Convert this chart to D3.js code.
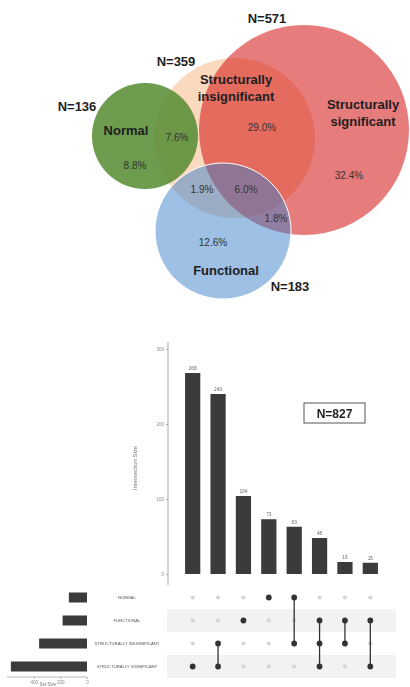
<!DOCTYPE html>
<html>
<head>
<meta charset="utf-8">
<script src="https://cdn.jsdelivr.net/npm/d3@7"></script>
<style>
  html, body { margin: 0; padding: 0; background: #fff; }
  svg { display: block; font-family: "Liberation Sans", Arial, sans-serif; }
</style>
</head>
<body>
<svg id="chart" width="410" height="687"></svg>
<script>
// ---- Venn: set names, totals, region shares ----
const vennSets = ["Structurally insignificant", "Normal", "Structurally significant", "Functional"];
const vennTotals = [359, 136, 571, 183];
const vennRegionLabels = ["29.0%", "7.6%", "8.8%", "32.4%", "1.9%", "6.0%", "1.8%", "12.6%"];

// ---- UpSet: sets, set sizes, intersections ----
const setNames = ["NORMAL", "FUNCTIONAL", "STRUCTURALLY INSIGNIFICANT", "STRUCTURALLY SIGNIFICANT"];
const setSizes = [136, 183, 359, 571];
const intersectionSizes = [268, 240, 104, 73, 63, 48, 16, 15];
// member set indices (into setNames) for each intersection column
const intersectionMembers = [[3], [2, 3], [1], [0], [0, 2], [1, 2, 3], [1, 2], [1, 3]];
const intersectionTicks = [0, 100, 200, 300];
const setSizeTicks = [0, 200, 400];
const totalLabel = "N=827";

const svg = d3.select("#chart");
const FONT = "'Liberation Sans', Arial, sans-serif";

const defs = svg.append("defs");
defs.append("filter").attr("id", "soft")
  .attr("x", "-5%").attr("y", "-5%").attr("width", "110%").attr("height", "110%")
  .append("feGaussianBlur").attr("stdDeviation", 0.35);

// ================= Venn diagram =================
const vennLayout = [
  { cx: 235, cy: 138, r: 80, fill: "rgb(245,170,110)", op: 0.45,
    title: ["Structurally", "insignificant"], tx: 236, ty: 84, nx: 176, ny: 66 },
  { cx: 145, cy: 136, r: 53, fill: "rgb(85,140,50)", op: 0.86,
    title: ["Normal"], tx: 126, ty: 135, nx: 77, ny: 111 },
  { cx: 304, cy: 130, r: 105, fill: "rgb(212,22,22)", op: 0.56,
    title: ["Structurally", "significant"], tx: 363, ty: 109, nx: 267, ny: 23 },
  { cx: 223, cy: 231, r: 68, fill: "rgb(60,130,202)", op: 0.5,
    title: ["Functional"], tx: 226, ty: 275, nx: 290, ny: 291 }
];
const venn = vennSets.map((name, i) => Object.assign({ name, total: vennTotals[i] }, vennLayout[i]));

const vg = svg.append("g");
vg.selectAll("circle").data(venn).join("circle")
  .attr("cx", d => d.cx).attr("cy", d => d.cy).attr("r", d => d.r)
  .attr("fill", d => d.fill).attr("fill-opacity", d => d.op)
  .attr("stroke", (d, i) => i === 3 ? "#fff" : "none")
  .attr("stroke-width", 1);

// set titles
venn.forEach(d => {
  const t = vg.append("text")
    .attr("x", d.tx).attr("y", d.ty)
    .attr("text-anchor", "middle")
    .attr("font-size", 13).attr("font-weight", "bold").attr("fill", "#1e1e1e");
  d.title.forEach((line, k) => {
    t.append("tspan").attr("x", d.tx).attr("dy", k === 0 ? 0 : 17).text(line);
  });
  vg.append("text")
    .attr("x", d.nx).attr("y", d.ny)
    .attr("text-anchor", "middle")
    .attr("font-size", 13).attr("font-weight", "bold").attr("fill", "#1e1e1e")
    .text("N=" + d.total);
});

// region shares
const regionPos = [[262, 131], [177, 141], [135, 169], [349, 179], [202, 193], [246, 193], [276, 222], [213, 246]];
vg.selectAll("text.pct").data(vennRegionLabels).join("text")
  .attr("class", "pct")
  .attr("x", (d, i) => regionPos[i][0]).attr("y", (d, i) => regionPos[i][1])
  .attr("text-anchor", "middle")
  .attr("font-size", 10).attr("fill", "#333")
  .text(d => d);

// ================= UpSet plot =================
const ug = svg.append("g").attr("filter", "url(#soft)");
const cols = d3.range(intersectionSizes.length);

const x = d3.scaleBand().domain(cols).range([180, 383]).paddingInner(0.4).paddingOuter(0.2);
const y = d3.scaleLinear().domain([0, 300]).range([574, 349]);
const row = d3.scaleBand().domain(setNames).range([586, 678]);
const sx = d3.scaleLinear().domain([0, 600]).range([87, 7]);

// intersection-size axis
const yAxis = ug.append("g").attr("transform", "translate(168,0)")
  .call(d3.axisLeft(y).tickValues(intersectionTicks).tickSize(2).tickPadding(2));
yAxis.select(".domain").remove();
yAxis.selectAll("line").attr("stroke", "#888").attr("stroke-width", 0.6);
yAxis.selectAll("text").attr("font-size", 4.5).attr("fill", "#888").attr("font-family", FONT);
ug.append("line").attr("x1", 168).attr("x2", 168).attr("y1", 342).attr("y2", 585)
  .attr("stroke", "#888").attr("stroke-width", 0.7);

ug.append("text")
  .attr("transform", "translate(137,468) rotate(-90)")
  .attr("text-anchor", "middle")
  .attr("font-size", 6).attr("fill", "#777")
  .text("Intersection Size");

// intersection bars
ug.selectAll("rect.bar").data(intersectionSizes).join("rect")
  .attr("class", "bar")
  .attr("x", (d, i) => x(i)).attr("width", x.bandwidth())
  .attr("y", d => y(d)).attr("height", d => y(0) - y(d))
  .attr("fill", "#3a3a3a");

ug.selectAll("text.val").data(intersectionSizes).join("text")
  .attr("class", "val")
  .attr("x", (d, i) => x(i) + x.bandwidth() / 2)
  .attr("y", d => y(d) - 3)
  .attr("text-anchor", "middle")
  .attr("font-size", 4.8).attr("fill", "#666")
  .text(d => d);

// total box
const box = ug.append("g").attr("transform", "translate(304,403)");
box.append("rect").attr("width", 61).attr("height", 20)
  .attr("fill", "#fff").attr("stroke", "#555").attr("stroke-width", 1);
box.append("text").attr("x", 30.5).attr("y", 14.5)
  .attr("text-anchor", "middle")
  .attr("font-size", 12).attr("font-weight", "bold").attr("fill", "#222")
  .text(totalLabel);

// matrix stripes
ug.selectAll("rect.stripe").data(setNames.filter((d, i) => i % 2 === 1)).join("rect")
  .attr("class", "stripe")
  .attr("x", 167).attr("width", 229)
  .attr("y", d => row(d)).attr("height", row.bandwidth())
  .attr("fill", "#f2f2f2");

// matrix dots and connectors
const cx = i => x(i) + x.bandwidth() / 2;
const cy = s => row(s) + row.bandwidth() / 2;
cols.forEach(i => {
  const members = intersectionMembers[i];
  setNames.forEach((s, k) => {
    const on = members.includes(k);
    ug.append("circle")
      .attr("cx", cx(i)).attr("cy", cy(s))
      .attr("r", on ? 2.9 : 2.1)
      .attr("fill", on ? "#333" : "#d6d6d6");
  });
  if (members.length > 1) {
    const ys = members.map(k => cy(setNames[k]));
    ug.append("line")
      .attr("x1", cx(i)).attr("x2", cx(i))
      .attr("y1", d3.min(ys)).attr("y2", d3.max(ys))
      .attr("stroke", "#333").attr("stroke-width", 1.3);
  }
});

// set labels
ug.selectAll("text.set").data(setNames).join("text")
  .attr("class", "set")
  .attr("x", 127).attr("y", d => cy(d) + 1.5)
  .attr("text-anchor", "middle")
  .attr("font-size", 4.2).attr("fill", "#555")
  .text(d => d);

// set-size bars
ug.selectAll("rect.set").data(setSizes).join("rect")
  .attr("class", "set")
  .attr("x", d => sx(d)).attr("width", d => sx(0) - sx(d))
  .attr("y", (d, i) => cy(setNames[i]) - 5).attr("height", 10)
  .attr("fill", "#3a3a3a");

const sAxis = ug.append("g").attr("transform", "translate(0,677)")
  .call(d3.axisBottom(sx).tickValues(setSizeTicks).tickSize(2).tickPadding(1.5));
sAxis.select(".domain").attr("stroke", "#888").attr("stroke-width", 0.6)
  .attr("d", "M7,0H87");
sAxis.selectAll("line").attr("stroke", "#888").attr("stroke-width", 0.6);
sAxis.selectAll("text").attr("font-size", 4.5).attr("fill", "#888").attr("font-family", FONT);

ug.append("text").attr("x", 48).attr("y", 685.5)
  .attr("text-anchor", "middle")
  .attr("font-size", 4.5).attr("fill", "#777")
  .text("Set Size");
</script>
</body>
</html>
